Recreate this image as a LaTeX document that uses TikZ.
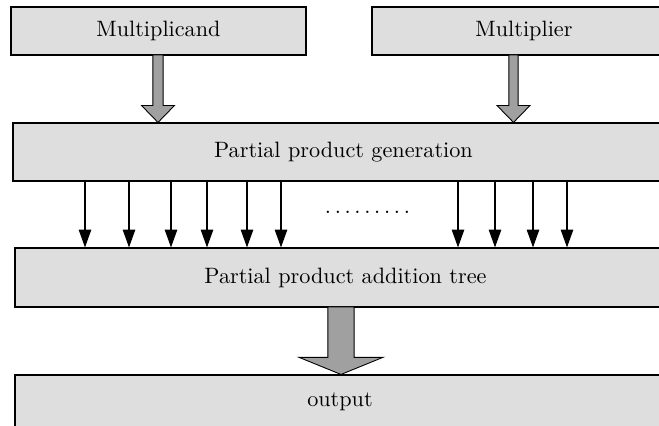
\documentclass[tikz,border=0pt]{standalone}
\usetikzlibrary{arrows.meta,calc}
\definecolor{boxgray}{RGB}{222,222,222}
\definecolor{arrowgray}{RGB}{160,160,160}
\newcommand\fatarrow[5]{%
  \draw[fatarrowstyle] let \p1=(#1), \p2=(#2) in
    (\x1-#3,\y1) -- (\x1+#3,\y1) -- (\x1+#3,\y2+#5) -- (\x2+#4,\y2+#5)
    -- (\x2,\y2) -- (\x2-#4,\y2+#5) -- (\x1-#3,\y2+#5) -- cycle;}
\begin{document}
\begin{tikzpicture}[x=0.45pt,y=-0.45pt,
  blockbox/.style={draw=black, line width=0.5pt, fill=boxgray, rectangle, inner sep=0pt, font=\normalsize},
  fatarrowstyle/.style={draw=black, line width=0.4pt, fill=arrowgray},
  thinarrow/.style={draw=black, line width=0.5pt, -{Triangle[width=5.6pt,length=8pt]}}]
\useasboundingbox (0,0) rectangle (659,426);
\node[blockbox, minimum width=295*0.45pt, minimum height=48*0.45pt] (mc) at (158.5,31) {Multiplicand};
\node[blockbox, minimum width=304*0.45pt, minimum height=48*0.45pt] (mr) at (524,31) {Multiplier};
\node[blockbox, minimum width=661*0.45pt, minimum height=58*0.45pt] (ppg) at (343.5,152) {Partial product generation};
\node[blockbox, minimum width=661*0.45pt, minimum height=59*0.45pt] (ppat) at (345.5,277.5) {Partial product addition tree};
\node[blockbox, minimum width=650*0.45pt, minimum height=53*0.45pt] (out) at (340,401.5) {output};
% fat arrows
\coordinate (a1) at (158,55);
\coordinate (a2) at (513.5,55);
\coordinate (a3) at (341,307);
\fatarrow{a1}{a1 |- ppg.north}{2.3pt}{7.4pt}{7.6pt}
\fatarrow{a2}{a2 |- ppg.north}{2.1pt}{7.4pt}{7.6pt}
\fatarrow{a3}{a3 |- out.north}{5.9pt}{18.9pt}{7.7pt}
% thin arrows
\foreach \xx in {85,129,171,207,247,281,458,495,533,567}{
  \coordinate (t) at (\xx,0);
  \draw[thinarrow] (t |- ppg.south) -- (t |- ppat.north);
}
\node[anchor=base, inner sep=0pt] (dots) at (367.5,213.5) {$\ldots\ldots\ldots$};
\end{tikzpicture}
\end{document}
